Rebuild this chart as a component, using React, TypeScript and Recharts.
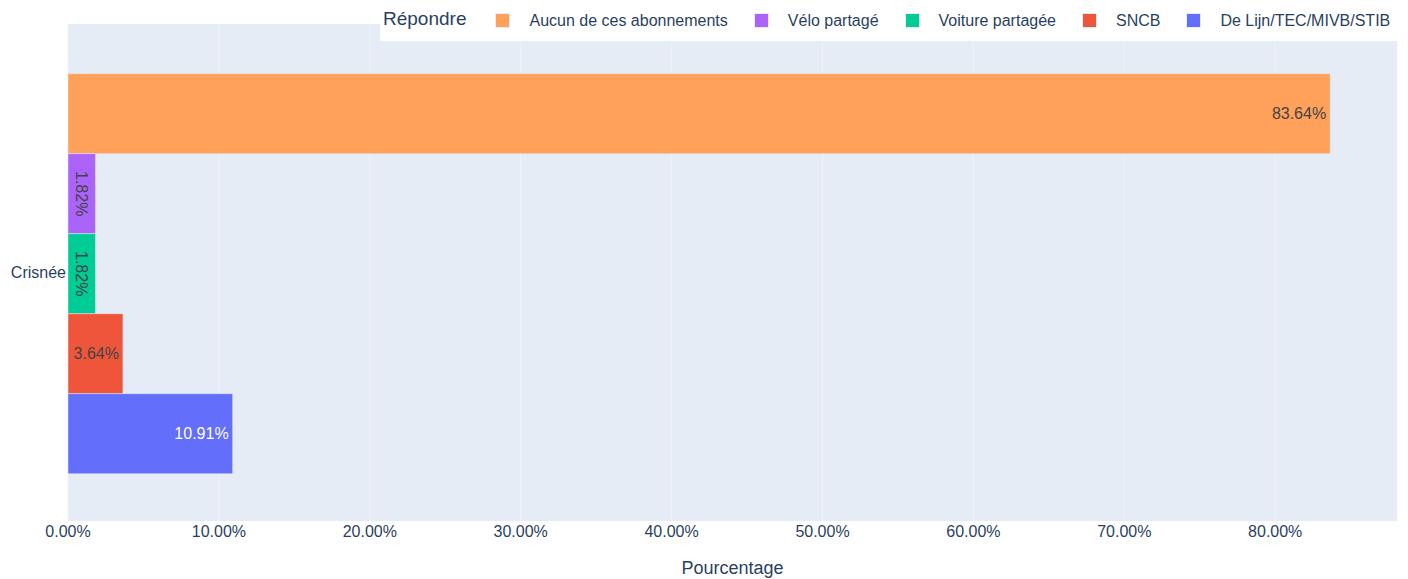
import React from 'react';
import { BarChart, Bar, XAxis, YAxis, CartesianGrid, Legend, LabelList } from 'recharts';

const categories = ['Crisnée'];
const seriesNames = ['Aucun de ces abonnements', 'Vélo partagé', 'Voiture partagée', 'SNCB', 'De Lijn/TEC/MIVB/STIB'];
const seriesKeys = ['aucun', 'velo', 'voiture', 'sncb', 'delijn'];
const aucunValues = [83.64];
const veloValues = [1.82];
const voitureValues = [1.82];
const sncbValues = [3.64];
const delijnValues = [10.91];
const seriesColors = ['#FFA15A', '#AB63FA', '#00CC96', '#EF553B', '#636EFA'];
const labelColors = ['#444', '#444', '#444', '#444', '#ffffff'];
const labelRotated = [false, true, true, false, false];
const xTicks = [0, 10, 20, 30, 40, 50, 60, 70, 80];
const legendTitle = 'Répondre';
const xTitle = 'Pourcentage';

const allValues = [aucunValues, veloValues, voitureValues, sncbValues, delijnValues];
const data = categories.map((name, i) => {
  const row: any = { name };
  seriesKeys.forEach((k, j) => { row[k] = allValues[j][i]; });
  return row;
});

const FONT = '"Liberation Sans", Arial, sans-serif';
const TXT = '#2a3f5f';

const makeLabel = (color: string, rotate: boolean) => (props: any) => {
  const { x, y, width, height, value } = props;
  const text = `${Number(value).toFixed(2)}%`;
  if (rotate) {
    const cx = x + width / 2;
    const cy = y + height / 2;
    return (
      <text x={cx} y={cy} transform={`rotate(90 ${cx} ${cy})`} textAnchor="middle" dominantBaseline="central" fill={color} fontSize={16} fontFamily={FONT}>
        {text}
      </text>
    );
  }
  return (
    <text x={x + width - 4} y={y + height / 2} textAnchor="end" dominantBaseline="central" fill={color} fontSize={16} fontFamily={FONT}>
      {text}
    </text>
  );
};

const renderLegend = () => (
  <div style={{ background: '#fff', height: 41, display: 'flex', alignItems: 'center', fontFamily: FONT, color: TXT, whiteSpace: 'nowrap' }}>
    <span style={{ fontSize: 19, marginLeft: 3, marginRight: 29, position: 'relative', top: -2 }}>{legendTitle}</span>
    {seriesNames.map((n, i) => (
      <span key={n} style={{ display: 'flex', alignItems: 'center', marginRight: 26 }}>
        <span style={{ display: 'inline-block', width: 13, height: 13, background: seriesColors[i], border: '0.5px solid #E5ECF6', marginRight: 19 }} />
        <span style={{ fontSize: 16 }}>{n}</span>
      </span>
    ))}
  </div>
);

export default function App() {
  return (
    <div style={{ position: 'absolute', left: 0, top: 0, width: 1408, height: 579, background: '#fff' }}>
      <BarChart
        width={1408}
        height={579}
        data={data}
        layout="vertical"
        margin={{ top: 24, right: 11, left: 0, bottom: 0 }}
        barCategoryGap="10%"
        barGap={0}
      >
        <CartesianGrid horizontal={false} vertical={true} stroke="#EEF2F9" strokeWidth={1} fill="#E5ECF6" />
        <XAxis
          type="number"
          domain={[0, 88.07]}
          ticks={xTicks}
          tickFormatter={(v: number) => `${v.toFixed(2)}%`}
          axisLine={false}
          tickLine={false}
          tickSize={0}
          tickMargin={5}
          height={58}
          tick={{ fontSize: 16, fill: TXT, fontFamily: FONT }}
          label={{ value: xTitle, position: 'insideBottom', offset: 5, fontSize: 18, fill: TXT, fontFamily: FONT }}
        />
        <YAxis
          type="category"
          dataKey="name"
          width={68}
          axisLine={false}
          tickLine={false}
          tickSize={0}
          tickMargin={2}
          tick={{ fontSize: 16, fill: TXT, fontFamily: FONT }}
        />
        <Legend
          layout="horizontal"
          verticalAlign="middle"
          align="center"
          content={renderLegend}
          wrapperStyle={{ position: 'absolute', left: 380, top: 0, width: 1028, height: 41 }}
        />
        {seriesKeys.map((k, i) => (
          <Bar key={k} dataKey={k} name={seriesNames[i]} fill={seriesColors[i]} stroke="#E5ECF6" strokeWidth={0.5} isAnimationActive={false}>
            <LabelList dataKey={k} content={makeLabel(labelColors[i], labelRotated[i])} />
          </Bar>
        ))}
      </BarChart>
    </div>
  );
}
